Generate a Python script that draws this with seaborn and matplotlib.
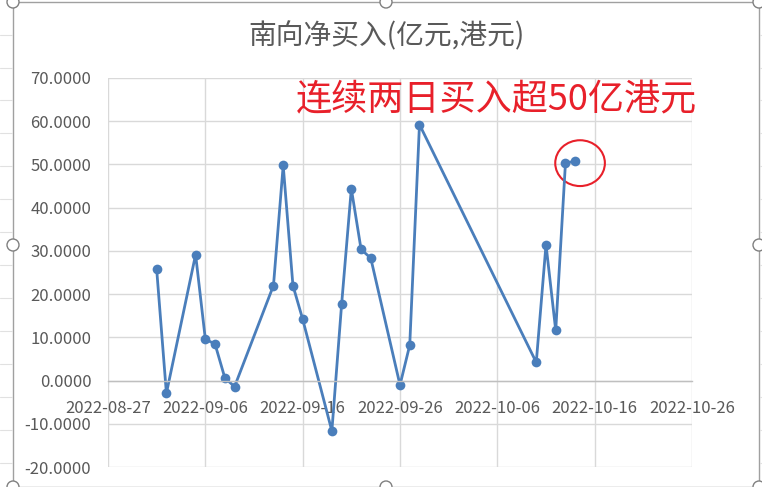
import pandas as pd
import matplotlib.pyplot as plt
import matplotlib.dates as mdates
from matplotlib.patches import Rectangle, Ellipse
from matplotlib.lines import Line2D
import seaborn as sns

# data (亿港元)
dates = ["2022-09-01", "2022-09-02", "2022-09-05", "2022-09-06", "2022-09-07",
         "2022-09-08", "2022-09-09", "2022-09-13", "2022-09-14", "2022-09-15",
         "2022-09-16", "2022-09-19", "2022-09-20", "2022-09-21", "2022-09-22",
         "2022-09-23", "2022-09-26", "2022-09-27", "2022-09-28", "2022-10-10",
         "2022-10-11", "2022-10-12", "2022-10-13", "2022-10-14"]
net_buy = [25.75, -2.96, 29.15, 9.58, 8.43, 0.65, -1.43, 21.99, 49.77, 21.99,
           14.20, -11.66, 17.60, 44.39, 30.37, 28.29, -1.04, 8.20, 59.24, 4.20,
           31.45, 11.59, 50.39, 50.69]
x_ticks = ["2022-08-27", "2022-09-06", "2022-09-16", "2022-09-26",
           "2022-10-06", "2022-10-16", "2022-10-26"]
y_ticks = [-20, -10, 0, 10, 20, 30, 40, 50, 60, 70]

title = "南向净买入(亿元,港元)"
note = "连续两日买入超50亿港元"

df = pd.DataFrame({"date": pd.to_datetime(dates), "value": net_buy})

sns.set_style("white")
plt.rcParams['font.family'] = ['Noto Sans CJK SC', 'DejaVu Sans']

fig = plt.figure(figsize=(7.62, 4.87), dpi=100)
W, H = 762, 487

# spreadsheet cells behind the chart
for yy in [35, 68, 100, 133, 166, 199, 232, 265, 298, 331, 364, 397, 430, 463]:
    fig.add_artist(Line2D([0, 12 / W], [1 - yy / H, 1 - yy / H], color="#E1E1E1", lw=0.8))
    fig.add_artist(Line2D([760 / W, 1], [1 - yy / H, 1 - yy / H], color="#E1E1E1", lw=0.8))

# chart frame with selection handles
fig.add_artist(Rectangle((13 / W, 0), 746 / W, 1 - 2 / H, fill=False,
                         edgecolor="#A0A0A0", lw=1.0))
for hx, hy in [(13, 2), (759, 2), (13, 245), (759, 245), (386, 2), (386, 487), (13, 487), (759, 487)]:
    fig.add_artist(Ellipse((hx / W, 1 - hy / H), 12 / W, 12 / H, facecolor="white",
                           edgecolor="#808080", lw=1.0, zorder=5))

ax = fig.add_axes([108 / W, 1 - 467 / H, 584 / W, 389 / H])
sns.lineplot(data=df, x="date", y="value", ax=ax, color="#4A7EBB", lw=2.0,
             marker="o", markersize=7, markeredgewidth=0)

ax.set_xlim(pd.Timestamp(x_ticks[0]), pd.Timestamp(x_ticks[-1]))
ax.set_ylim(y_ticks[0], y_ticks[-1])
ax.set_xticks(pd.to_datetime(x_ticks))
ax.xaxis.set_major_formatter(mdates.DateFormatter("%Y-%m-%d"))
ax.set_yticks(y_ticks)
ax.set_yticklabels([f"{v:.4f}" for v in y_ticks])
ax.grid(True, color="#D9D9D9", lw=1.0)
ax.set_axisbelow(True)
for s in ["top", "right", "left"]:
    ax.spines[s].set_visible(False)
ax.spines["bottom"].set_position(("data", 0))
ax.spines["bottom"].set_color("#BFBFBF")
ax.spines["bottom"].set_linewidth(1.0)
ax.tick_params(axis="both", length=0, labelsize=12, labelcolor="#595959")
ax.tick_params(axis="x", pad=14)
ax.tick_params(axis="y", pad=12)
ax.set_xlabel("")
ax.set_ylabel("")

fig.text(386 / W, 1 - 36 / H, title, ha="center", va="center",
         fontsize=20, color="#595959")
ax.text(1.009, 0.943, note, transform=ax.transAxes, ha="right", va="center",
        fontsize=26, color="#E8202A", fontweight="light")
ax.add_patch(Ellipse((pd.Timestamp("2022-10-15") - pd.Timedelta(hours=12), 50.3),
                     width=5.1, height=10.6, fill=False, edgecolor="#E8202A", lw=1.5))

fig.savefig("out.png", dpi=100, facecolor="white")
